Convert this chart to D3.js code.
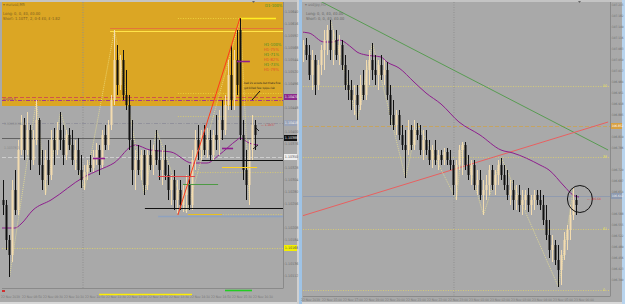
<!DOCTYPE html>
<html><head><meta charset="utf-8">
<script src="https://cdn.jsdelivr.net/npm/d3@7"></script>
<style>
body{margin:0;background:#a9a9a9;overflow:hidden}
svg text{font-family:"Liberation Sans Narrow","DejaVu Sans Condensed",sans-serif}
</style></head>
<body><svg id="c" width="625" height="304"></svg>
<script>
// ---------------- DATA ----------------
// Left chart (EURUSD) candles: [open, high, low, close]
const leftCandles = [
[1.10264,1.10304,1.10234,1.10254],[1.10254,1.10264,1.10164,1.10184],[1.10184,1.10194,1.10110,1.10154],
[1.10154,1.10304,1.10140,1.10284],[1.10284,1.10324,1.10234,1.10244],[1.10244,1.10384,1.10234,1.10364],
[1.10364,1.10434,1.10354,1.10414],[1.10414,1.10428,1.10344,1.10364],[1.10364,1.10440,1.10354,1.10404],
[1.10404,1.10414,1.10324,1.10344],[1.10344,1.10404,1.10334,1.10384],[1.10384,1.10464,1.10374,1.10424],
[1.10424,1.10428,1.10314,1.10334],[1.10334,1.10364,1.10284,1.10304],[1.10304,1.10364,1.10274,1.10344],
[1.10344,1.10384,1.10294,1.10314],[1.10314,1.10404,1.10304,1.10384],[1.10384,1.10408,1.10334,1.10364],
[1.10364,1.10420,1.10354,1.10404],[1.10404,1.10440,1.10364,1.10384],[1.10384,1.10414,1.10334,1.10354],
[1.10354,1.10404,1.10344,1.10394],[1.10394,1.10408,1.10364,1.10374],[1.10374,1.10404,1.10334,1.10344],
[1.10344,1.10384,1.10324,1.10364],[1.10364,1.10388,1.10314,1.10324],[1.10324,1.10354,1.10288,1.10304],
[1.10304,1.10334,1.10284,1.10320],[1.10320,1.10344,1.10304,1.10334],[1.10334,1.10354,1.10320,1.10328],
[1.10328,1.10364,1.10320,1.10348],[1.10348,1.10378,1.10334,1.10364],[1.10364,1.10374,1.10314,1.10334],
[1.10334,1.10404,1.10328,1.10394],[1.10394,1.10414,1.10364,1.10374],[1.10374,1.10424,1.10364,1.10414],
[1.10414,1.10474,1.10404,1.10464],[1.10464,1.10604,1.10454,1.10544],[1.10544,1.10574,1.10474,1.10494],
[1.10494,1.10554,1.10484,1.10544],[1.10544,1.10564,1.10464,1.10474],[1.10474,1.10524,1.10444,1.10454],
[1.10454,1.10474,1.10364,1.10384],[1.10384,1.10424,1.10294,1.10324],[1.10324,1.10364,1.10284,1.10344],
[1.10344,1.10374,1.10314,1.10324],[1.10324,1.10364,1.10304,1.10354],[1.10354,1.10364,1.10274,1.10294],
[1.10294,1.10364,1.10284,1.10354],[1.10354,1.10384,1.10324,1.10334],[1.10334,1.10374,1.10314,1.10364],
[1.10364,1.10404,1.10334,1.10344],[1.10344,1.10384,1.10304,1.10324],[1.10324,1.10364,1.10294,1.10344],
[1.10344,1.10374,1.10304,1.10314],[1.10314,1.10334,1.10264,1.10284],[1.10284,1.10314,1.10254,1.10304],
[1.10304,1.10324,1.10244,1.10264],[1.10264,1.10304,1.10238,1.10284],[1.10284,1.10304,1.10244,1.10254],
[1.10254,1.10294,1.10240,1.10274],[1.10274,1.10314,1.10238,1.10294],[1.10294,1.10334,1.10244,1.10254],
[1.10254,1.10364,1.10244,1.10344],[1.10344,1.10404,1.10324,1.10384],[1.10384,1.10414,1.10344,1.10364],
[1.10364,1.10404,1.10344,1.10394],[1.10394,1.10414,1.10354,1.10364],[1.10364,1.10408,1.10348,1.10384],
[1.10384,1.10404,1.10344,1.10354],[1.10354,1.10404,1.10344,1.10394],[1.10394,1.10434,1.10364,1.10384],
[1.10384,1.10444,1.10354,1.10424],[1.10424,1.10464,1.10384,1.10404],[1.10404,1.10474,1.10394,1.10454],
[1.10454,1.10544,1.10444,1.10514],[1.10514,1.10574,1.10444,1.10464],[1.10464,1.10564,1.10444,1.10544],
[1.10544,1.10604,1.10474,1.10494],[1.10604,1.10628,1.10384,1.10394],[1.10394,1.10424,1.10304,1.10324],
[1.10324,1.10364,1.10264,1.10294],[1.10294,1.10384,1.10254,1.10364],[1.10364,1.10434,1.10344,1.10414],
[1.10414,1.10424,1.10364,1.10394]
];
const leftMAIdx = [-1,4,6,10,16,27,32,37,44,49,56,63,68,72,78,79,82,85];
const leftMA    = [1.10208,1.10208,1.10216,1.10244,1.10264,1.10310,1.10324,1.10338,1.10374,1.10364,1.10360,1.10338,1.10338,1.10354,1.10384,1.10388,1.10378,1.10374];
const leftZigIdx  = [2,11,14,19,27,37,47,51,61,79,82];
const leftZigType = ["l","h","l","h","l","h","l","h","l","h","l"];

// Right chart (USDJPY) candles: [open, high, low, close]
const rightCandles = [
[107.080,107.110,107.044,107.095],[107.095,107.116,107.050,107.065],[107.065,107.095,106.990,107.005],
[107.005,107.080,106.960,107.050],[107.050,107.065,106.945,106.975],[106.975,107.050,106.960,107.035],
[107.035,107.095,107.005,107.080],[107.080,107.140,107.020,107.110],[107.110,107.155,107.065,107.140],
[107.140,107.170,107.050,107.080],[107.080,107.140,107.035,107.110],[107.110,107.140,107.050,107.065],
[107.065,107.125,107.035,107.095],[107.095,107.110,107.020,107.035],[107.035,107.065,106.960,106.975],
[106.975,107.020,106.930,106.960],[106.960,106.990,106.900,106.930],[106.930,106.975,106.885,106.945],
[106.945,106.975,106.870,106.915],[106.915,107.005,106.900,106.975],[106.975,107.020,106.930,106.945],
[106.945,107.050,106.930,107.020],[107.020,107.080,106.975,107.050],[107.050,107.101,106.990,107.020],
[107.020,107.065,106.975,107.005],[107.005,107.050,106.960,107.035],[107.035,107.065,106.990,107.005],
[107.005,107.050,106.975,107.020],[107.020,107.044,106.930,106.945],[106.945,106.975,106.855,106.885],
[106.885,106.930,106.840,106.855],[106.855,106.900,106.825,106.885],[106.885,106.900,106.810,106.825],
[106.825,106.855,106.780,106.795],[106.795,106.840,106.696,106.780],[106.780,106.870,106.765,106.840],
[106.840,106.855,106.780,106.795],[106.795,106.870,106.780,106.840],[106.840,106.861,106.810,106.825],
[106.825,106.855,106.765,106.780],[106.780,106.840,106.750,106.810],[106.810,106.840,106.765,106.780],
[106.780,106.810,106.735,106.750],[106.750,106.795,106.726,106.780],[106.780,106.810,106.735,106.750],
[106.750,106.780,106.720,106.765],[106.765,106.780,106.735,106.750],[106.750,106.786,106.735,106.774],
[106.774,106.786,106.735,106.750],[106.750,106.780,106.720,106.735],[106.735,106.750,106.645,106.675],
[106.675,106.750,106.630,106.735],[106.735,106.795,106.720,106.780],[106.780,106.804,106.705,106.795],
[106.795,106.804,106.720,106.735],[106.735,106.765,106.690,106.705],[106.705,106.750,106.675,106.735],
[106.735,106.750,106.660,106.675],[106.675,106.720,106.645,106.690],[106.690,106.720,106.630,106.645],
[106.645,106.690,106.585,106.660],[106.660,106.705,106.630,106.675],[106.675,106.735,106.645,106.720],
[106.720,106.735,106.660,106.675],[106.675,106.720,106.645,106.705],[106.705,106.750,106.675,106.735],
[106.735,106.756,106.690,106.705],[106.705,106.735,106.660,106.675],[106.675,106.720,106.630,106.645],
[106.645,106.690,106.615,106.660],[106.660,106.690,106.600,106.630],[106.630,106.675,106.600,106.645],
[106.645,106.675,106.594,106.615],[106.615,106.660,106.585,106.630],[106.630,106.660,106.600,106.645],
[106.645,106.666,106.594,106.615],[106.615,106.645,106.585,106.630],[106.630,106.660,106.600,106.645],
[106.645,106.660,106.615,106.630],[106.630,106.660,106.600,106.615],[106.615,106.645,106.555,106.570],
[106.570,106.615,106.510,106.525],[106.525,106.570,106.456,106.480],[106.480,106.525,106.444,106.495],
[106.495,106.510,106.435,106.450],[106.450,106.495,106.369,106.420],[106.420,106.480,106.375,106.465],
[106.465,106.534,106.450,106.510],[106.510,106.555,106.480,106.540],[106.540,106.615,106.510,106.585],
[106.585,106.666,106.570,106.630],[106.630,106.645,106.585,106.615]
];
const rightMAIdx = [-1,2,7,10,12,16,18,21,26,28,32,37,41,46,52,59,66,70,79,82,87,90,92];
const rightMA    = [107.134,107.131,107.104,107.104,107.110,107.089,107.074,107.065,107.059,107.044,107.026,106.984,106.951,106.918,106.864,106.825,106.780,106.771,106.735,106.720,106.672,106.645,106.639];
const rightZigIdx  = [9,18,23,34,38,51,53,60,66,85,90];
const rightZigType = ["h","l","h","l","h","l","h","l","h","l","h"];

// Price-axis tick labels
const leftTicks  = [1.10640,1.10616,1.10592,1.10568,1.10544,1.10520,1.10496,1.10448,1.10400,1.10376,1.10328,1.10304,1.10280,1.10256,1.10208,1.10184,1.10136,1.10112];
const rightTicks = [107.215,107.182,107.149,107.116,107.083,107.050,107.017,106.984,106.951,106.918,106.885,106.819,106.786,106.720,106.687,106.654,106.588,106.555,106.522,106.489,106.456,106.423,106.390];
// Time-axis labels
const leftTimeLabels  = ["22 Nov 2019","22 Nov 08:50","22 Nov 09:30","22 Nov 10:10","22 Nov 10:50","22 Nov 11:30","22 Nov 12:10","22 Nov 12:50","22 Nov 13:30","22 Nov 14:10","22 Nov 14:50","22 Nov 15:30","22 Nov 16:10"];
const leftTimeIdx     = [-1,6,13,20,27,34,41,48,55,62,69,76,83];
const rightTimeLabels = ["22 Nov 2019","22 Nov 15:00","22 Nov 17:00","22 Nov 19:00","22 Nov 20:00","22 Nov 21:00","22 Nov 22:00","22 Nov 23:00","23 Nov 01:00","23 Nov 02:00","23 Nov 03:00","23 Nov 04:00","23 Nov 05:00","23 Nov 06:00"];
const rightTimeIdx    = [-1,6,13,20,27,34,41,48,55,62,69,76,83,90];

// Levels (prices)
const leftZone = [1.10660, 1.10452];
const leftLevels = {d1:1.10628, orange:1.10608, yellowTop:1.10602, ydot1:1.10478, redDash:1.10470, purpleDash:1.10464,
  ydot2:1.10432, grayDash:1.10418, darkLine:1.10388, whiteDash:1.10350, black2:1.10344, yShort:1.10330, ydot3:1.10320,
  redShort:1.10312, greenShort:1.10296, black1:1.10248, yLow:1.10236, blueLine:1.10232, yBottom:1.10168,
  pur1:1.10542, pur2:1.10368, pur3:1.10348};
const leftTrend = [[58.3,1.10234],[79,1.10628]];
const rightLevels = {y1:106.972, tan:106.852, y2:106.759, blue:106.642, y3:106.543, y4:106.360};
const rightGreenTrend = [[5,107.230],[101.7,106.780]];
const rightRedTrend = [[-0.4,106.582],[101.7,106.864]];
const rightCircle = [92.3, 106.633];
const hLabels = ["H1-100%","H1-75%","H1-71%","H1-82%","H1-73%","H1-79%"];

// ---------------- DRAW ----------------
const svg = d3.select("#c");
const W = 625, H = 304;
svg.append("rect").attr("width",W).attr("height",H).attr("fill","#a9a9a9");

svg.append("rect").attr("x",0).attr("y",0).attr("width",W).attr("height",2).attr("fill","#c4c4c4");
svg.append("rect").attr("x",0).attr("y",302).attr("width",W).attr("height",2).attr("fill","#d8d8d8");
svg.append("rect").attr("x",297).attr("y",0).attr("width",2).attr("height",H).attr("fill","#d0d0d0");
svg.append("rect").attr("x",299).attr("y",0).attr("width",3).attr("height",H).attr("fill","#9ec3e6");
svg.append("rect").attr("x",622).attr("y",0).attr("width",3).attr("height",H).attr("fill","#b8d4ee");

function panel(o){
  const g = svg.append("g");
  const clipId = "clip"+o.id;
  svg.append("clipPath").attr("id",clipId).append("rect")
    .attr("x",o.x0).attr("y",2).attr("width",o.x1-o.x0).attr("height",o.yb-2);
  const x = d3.scaleLinear().domain(o.xDomain).range(o.xRange);
  const y = d3.scaleLinear().domain(o.yDomain).range([0,H]);
  const c = g.append("g").attr("clip-path",`url(#${clipId})`);
  return {g,c,x,y};
}
function drawCandles(c,x,y,data){
  const gg = c.append("g");
  data.forEach((d,i)=>{
    const [o,h,l,cl]=d; const up = cl>=o;
    const col = up ? "#f3dcb0" : "#111";
    gg.append("line").attr("x1",x(i)+0.5).attr("x2",x(i)+0.5).attr("y1",y(h)).attr("y2",y(l))
      .attr("stroke",col).attr("stroke-width",1);
    const top = y(Math.max(o,cl)), bot = y(Math.min(o,cl));
    gg.append("rect").attr("x",x(i)-0.5).attr("y",top).attr("width",2).attr("height",Math.max(1,bot-top)).attr("fill",col);
  });
}
function hline(c,y0,x1,x2,col,w,dash){
  c.append("line").attr("x1",x1).attr("x2",x2).attr("y1",Math.round(y0)+0.5).attr("y2",Math.round(y0)+0.5)
   .attr("stroke",col).attr("stroke-width",w).attr("stroke-dasharray",dash||null);
}
function txt(g,x,y,s,size,fill){
  return g.append("text").attr("x",x).attr("y",y).attr("font-size",size).attr("fill",fill).text(s);
}
function axisLabels(g,y,ticks,xx,fmt,size){
  ticks.forEach(t=>{
    txt(g,xx,y(t)+1.2,fmt(t),size,"#6e6e6e");
    g.append("line").attr("x1",xx-2).attr("x2",xx-0.5).attr("y1",y(t)).attr("y2",y(t)).attr("stroke","#808080").attr("stroke-width",0.6);
  });
}
function priceBox(g,y,price,xx,w,bg,fg,fmt,size){
  g.append("rect").attr("x",xx).attr("y",y(price)-3).attr("width",w).attr("height",6).attr("fill",bg);
  txt(g,xx+0.8,y(price)+1.2,fmt(price),size,fg);
}

// ===== LEFT PANEL =====
const fmtL = d3.format(".5f");
const L = panel({id:"L", x0:2, x1:283, yb:288, xDomain:[0,84], xRange:[3,255], yDomain:[1.10664, 1.10664-0.00002*H]});
const xl=L.x, yl=L.y, cl=L.c;
const xR = 283;
cl.append("rect").attr("x",2).attr("y",yl(leftZone[0])).attr("width",xR-2).attr("height",yl(leftZone[1])-yl(leftZone[0])).attr("fill","#dba624");
cl.append("line").attr("x1",xl(26.67)).attr("x2",xl(26.67)).attr("y1",2).attr("y2",288).attr("stroke","#8f8f8f").attr("stroke-dasharray","1,1.5");
hline(cl,yl(leftLevels.orange),xl(35.7),xR,"#e2763a",1.2);
hline(cl,yl(leftLevels.yellowTop),xl(35.7),xR,"#ffe44a",1.2);
hline(cl,yl(leftLevels.d1),xl(58.3),xl(79),"#f2e040",0.8,"1,1.5");
hline(cl,yl(leftLevels.d1),xl(79),xl(91),"#ffee22",1.4);
hline(cl,yl(leftLevels.ydot1),xl(58.3),xR,"#f2e040",0.7,"1,1.5");
hline(cl,yl(leftLevels.redDash),2,xR,"#d0564a",1,"4,2");
hline(cl,yl(leftLevels.purpleDash),2,xR,"#a2388a",1,"4,1.5,1,1.5");
hline(cl,yl(leftLevels.ydot2),xl(58.3),xR,"#e6d660",0.7,"1,1.5");
hline(cl,yl(leftLevels.grayDash),2,xR,"#8c8c98",0.8,"4,1.5,1,1.5");
hline(cl,yl(leftLevels.darkLine),2,xR,"#5a5a5a",0.9);
hline(cl,yl(leftLevels.whiteDash),2,xR,"#d8d8d8",0.8,"4,2");
hline(cl,yl(leftLevels.ydot3),xl(62.3),xR,"#e6d660",0.7,"1,1.5");
hline(cl,yl(leftLevels.yLow),xl(61.7),xR,"#e6d660",0.7,"1,1.5");
hline(cl,yl(leftLevels.blueLine),xl(51.7),xR,"#8fa2bf",1.6);
hline(cl,yl(leftLevels.yLow),xl(61.7),xl(73),"#e8c020",1.2);
hline(cl,yl(leftLevels.yBottom),2,xR,"#e6d660",0.8,"1,1.5");
cl.append("path").datum(leftMAIdx.map((d,i)=>[d,leftMA[i]]))
  .attr("d",d3.line().x(d=>xl(d[0])).y(d=>yl(d[1])).curve(d3.curveMonotoneX))
  .attr("fill","none").attr("stroke","#8e1e8e").attr("stroke-width",1);
cl.append("path").datum(leftZigIdx.map((d,i)=>[d, leftZigType[i]=="h"?leftCandles[d][1]:leftCandles[d][2]]))
  .attr("d",d3.line().x(d=>xl(d[0])+0.5).y(d=>yl(d[1])))
  .attr("fill","none").attr("stroke","#f0e68c").attr("stroke-width",0.7).attr("stroke-dasharray","1,1");
drawCandles(cl,xl,yl,leftCandles);
hline(cl,yl(leftLevels.black2),xl(66.3),xR,"#111",1);
hline(cl,yl(leftLevels.black1),xl(47.3),xR,"#111",1);
hline(cl,yl(leftLevels.yShort),xl(73),xl(84.7),"#ffd21e",1.2);
hline(cl,yl(leftLevels.redShort),xl(51.7),xl(64),"#e04a4a",1.2);
hline(cl,yl(leftLevels.greenShort),xl(60),xl(71.7),"#4d9a44",1.2);
hline(cl,yl(leftLevels.pur1),xl(78),xl(82.3),"#8e1e8e",1.6);
hline(cl,yl(leftLevels.pur2),xl(73),xl(76.7),"#8e1e8e",1.6);
hline(cl,yl(leftLevels.pur3),xl(30),xl(34),"#8e1e8e",1.6);
cl.append("line").attr("x1",xl(leftTrend[0][0])).attr("y1",yl(leftTrend[0][1])).attr("x2",xl(leftTrend[1][0])).attr("y2",yl(leftTrend[1][1]))
  .attr("stroke","#ff3a1a").attr("stroke-width",1);
cl.append("line").attr("x1",252).attr("y1",100).attr("x2",260).attr("y2",91).attr("stroke","#111").attr("stroke-width",1);
cl.append("line").attr("x1",255).attr("y1",127).attr("x2",259).attr("y2",131).attr("stroke","#111").attr("stroke-width",0.9);
cl.append("line").attr("x1",253).attr("y1",149).attr("x2",258).attr("y2",145).attr("stroke","#111").attr("stroke-width",0.9);
const tl = L.g;
txt(tl,3,5.5,"▾ eurusd,M5",4,"#8a6a20");
txt(tl,3,14.5,"Long: 0, 0, £0, £0.00",4,"#7a5a20");
txt(tl,3,19.5,"Short: 1.1077, 2, 0-4 £0, £-1.82",4,"#7a5a20");
txt(tl,3,99.5,"purple 4",3.4,"#8a3a8a");
txt(tl,4,125,"1.10418 H4 0",3.4,"#888");
txt(tl,4,149,"1.10376 3",3.4,"#888");
txt(tl,265,7,"D1-100%",4.2,"#3f8f2a");
hLabels.forEach((t,i)=>{
  txt(tl,264,46+i*5,t,4.2,i%2?"#e0502a":"#3f8f2a");
});
txt(tl,244,83.5,"bad 2x scouts but thats fine",2.9,"#222");
txt(tl,244,88.5,"got killed few 1pips risk",2.9,"#222");
txt(tl,261,126,"— 1.1037",3.2,"#d04040");
svg.append("line").attr("x1",283.5).attr("x2",283.5).attr("y1",2).attr("y2",288).attr("stroke","#8a8a8a").attr("stroke-width",1);
svg.append("line").attr("x1",2).attr("x2",283.5).attr("y1",288.5).attr("y2",288.5).attr("stroke","#8a8a8a").attr("stroke-width",1);
axisLabels(tl,yl,leftTicks,285,fmtL,3.6);
priceBox(tl,yl,leftLevels.redDash,284,13,"#8c2a8c","#eee",fmtL,3.6);
priceBox(tl,yl,leftLevels.grayDash,284,13,"#9aa4b8","#eee",fmtL,3.6);
priceBox(tl,yl,leftLevels.darkLine,284,13,"#111","#eee",fmtL,3.6);
priceBox(tl,yl,leftLevels.whiteDash,284,13,"#efefef","#555",fmtL,3.6);
priceBox(tl,yl,leftLevels.yBottom,284,13,"#f4f000","#555",fmtL,3.6);
leftTimeLabels.forEach((t,i)=>{
  txt(tl,xl(leftTimeIdx[i])+1,298,t,3.3,"#777");
});
tl.append("rect").attr("x",2).attr("y",290).attr("width",3).attr("height",2).attr("fill","#d03030");
hline(tl,293.5,99,192,"#ffee00",1.6);
hline(tl,289.5,225,252,"#22cc22",1.6);
tl.append("path").attr("d","M252,1 l3,0 l-1.5,2 z").attr("fill","#666");

// ===== RIGHT PANEL =====
const fmtR = d3.format(".3f");
const R = panel({id:"R", x0:303, x1:610, yb:296, xDomain:[0,91], xRange:[303,576], yDomain:[107.230, 107.230-0.003*H]});
const xr=R.x, yr=R.y, cr=R.c;
const xRR = 610;
cr.append("line").attr("x1",xr(50.33)).attr("x2",xr(50.33)).attr("y1",2).attr("y2",296).attr("stroke","#8f8f8f").attr("stroke-dasharray","1,1.5");
hline(cr,yr(rightLevels.y1),303,xRR,"#e0d26a",0.8,"1,1.5");
hline(cr,yr(rightLevels.tan),303,xRR,"#c8a45a",0.9,"4,2");
hline(cr,yr(rightLevels.y2),303,xRR,"#e0d26a",0.8,"1,1.5");
hline(cr,yr(rightLevels.blue),303,xRR,"#8d9ab0",0.9);
hline(cr,yr(rightLevels.y3),303,xRR,"#e0d26a",0.8,"1,1.5");
hline(cr,yr(rightLevels.y4),303,xRR,"#e0d26a",0.8,"1,1.5");
cr.append("line").attr("x1",xr(rightGreenTrend[0][0])).attr("y1",yr(rightGreenTrend[0][1]))
  .attr("x2",xr(rightGreenTrend[1][0])).attr("y2",yr(rightGreenTrend[1][1])).attr("stroke","#4f9a48").attr("stroke-width",0.9);
cr.append("line").attr("x1",xr(rightRedTrend[0][0])).attr("y1",yr(rightRedTrend[0][1]))
  .attr("x2",xr(rightRedTrend[1][0])).attr("y2",yr(rightRedTrend[1][1])).attr("stroke","#e86060").attr("stroke-width",1);
cr.append("path").datum(rightMAIdx.map((d,i)=>[d,rightMA[i]]))
  .attr("d",d3.line().x(d=>xr(d[0])).y(d=>yr(d[1])).curve(d3.curveMonotoneX))
  .attr("fill","none").attr("stroke","#8e1e8e").attr("stroke-width",1);
cr.append("path").datum(rightZigIdx.map((d,i)=>[d, rightZigType[i]=="h"?rightCandles[d][1]:rightCandles[d][2]]))
  .attr("d",d3.line().x(d=>xr(d[0])+0.5).y(d=>yr(d[1])))
  .attr("fill","none").attr("stroke","#f0e68c").attr("stroke-width",0.7).attr("stroke-dasharray","1,1");
drawCandles(cr,xr,yr,rightCandles);
cr.append("ellipse").attr("cx",xr(rightCircle[0])).attr("cy",yr(rightCircle[1])).attr("rx",12.5).attr("ry",13.5)
  .attr("fill","none").attr("stroke","#111").attr("stroke-width",1);
const tr = R.g;
txt(tr,305,5.5,"▾ usdjpy,H1",4,"#777");
txt(tr,306,14.5,"Long: 0, 0, £0, £0.00",4,"#666");
txt(tr,306,19.5,"Short: 0, 0, £0, £0.00",4,"#666");
txt(tr,587,200,"— 106.64",3.2,"#d04040");
svg.append("line").attr("x1",610.5).attr("x2",610.5).attr("y1",2).attr("y2",296).attr("stroke","#8a8a8a").attr("stroke-width",1);
svg.append("line").attr("x1",303).attr("x2",610.5).attr("y1",296.5).attr("y2",296.5).attr("stroke","#8a8a8a").attr("stroke-width",1);
axisLabels(tr,yr,rightTicks,612,fmtR,3.1);
priceBox(tr,yr,rightLevels.tan,611,11,"#d8a040","#fff",fmtR,3.1);
priceBox(tr,yr,rightLevels.blue,611,11,"#8d9ab0","#eee",fmtR,3.1);
[["50",rightLevels.y1],["38",rightLevels.y2],["61",rightLevels.y3],["0",rightLevels.y4]].forEach(d=>{
  txt(tr,603,yr(d[1])+1.3,d[0],3.6,"#e8e060");
});
rightTimeLabels.forEach((t,i)=>{
  txt(tr,xr(rightTimeIdx[i])+1,300.5,t,3.3,"#777");
});
tr.append("path").attr("d","M578,1 l3,0 l-1.5,2 z").attr("fill","#666");
</script>
</body></html>
